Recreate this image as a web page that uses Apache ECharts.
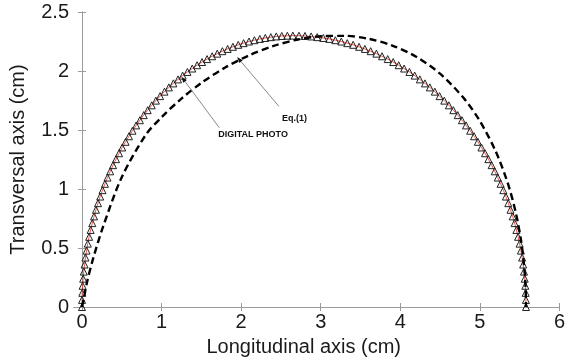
<!DOCTYPE html>
<html>
<head>
<meta charset="utf-8">
<script src="https://cdn.jsdelivr.net/npm/echarts@6/dist/echarts.min.js"></script>
<style>
  html, body { margin: 0; padding: 0; background: #fff; }
  #chart { width: 568px; height: 362px; }
</style>
</head>
<body>
<div id="chart"></div>
<script>
// Contour (cm)
const photoX = [
  0, 0.001, 0.004, 0.008, 0.015, 0.023, 0.033, 0.044, 0.058, 0.073, 0.090, 0.109, 0.130, 0.152, 0.176, 0.202,
  0.229, 0.258, 0.289, 0.321, 0.355, 0.391, 0.428, 0.466, 0.506, 0.548, 0.591, 0.635, 0.681, 0.728, 0.776,
  0.826, 0.877, 0.929, 0.982, 1.037, 1.092, 1.149, 1.207, 1.265, 1.325, 1.386, 1.447, 1.509, 1.572, 1.636,
  1.700, 1.765, 1.831, 1.897, 1.964, 2.031, 2.099, 2.167, 2.235, 2.304, 2.373, 2.442, 2.511, 2.581, 2.650,
  2.727, 2.803, 2.880, 2.956, 3.032, 3.108, 3.184, 3.259, 3.334, 3.408, 3.482, 3.555, 3.628, 3.700, 3.771,
  3.842, 3.911, 3.980, 4.048, 4.115, 4.181, 4.246, 4.310, 4.372, 4.434, 4.494, 4.553, 4.611, 4.667, 4.722,
  4.775, 4.827, 4.878, 4.927, 4.975, 5.020, 5.065, 5.107, 5.148, 5.187, 5.225, 5.261, 5.295, 5.327, 5.357,
  5.385, 5.412, 5.437, 5.459, 5.480, 5.499, 5.516, 5.531, 5.544, 5.555, 5.564, 5.571, 5.576, 5.579, 5.580
];
const photoY = [
  0, 0.060, 0.120, 0.180, 0.240, 0.300, 0.360, 0.419, 0.478, 0.537, 0.595, 0.653, 0.711, 0.768, 0.824, 0.880,
  0.936, 0.990, 1.044, 1.097, 1.150, 1.202, 1.253, 1.303, 1.352, 1.400, 1.447, 1.494, 1.539, 1.583, 1.626,
  1.668, 1.709, 1.749, 1.787, 1.825, 1.861, 1.895, 1.929, 1.961, 1.992, 2.021, 2.049, 2.076, 2.101, 2.125,
  2.147, 2.168, 2.187, 2.205, 2.222, 2.236, 2.250, 2.261, 2.272, 2.280, 2.287, 2.293, 2.297, 2.299, 2.300,
  2.299, 2.297, 2.293, 2.287, 2.280, 2.272, 2.261, 2.250, 2.236, 2.222, 2.205, 2.187, 2.168, 2.147, 2.125,
  2.101, 2.076, 2.049, 2.021, 1.992, 1.961, 1.929, 1.895, 1.861, 1.825, 1.787, 1.749, 1.709, 1.668, 1.626,
  1.583, 1.539, 1.494, 1.447, 1.400, 1.352, 1.303, 1.253, 1.202, 1.150, 1.097, 1.044, 0.990, 0.936, 0.880,
  0.824, 0.768, 0.711, 0.653, 0.595, 0.537, 0.478, 0.419, 0.360, 0.300, 0.240, 0.180, 0.120, 0.060, 0
];

// Profile given by Eq.(1) (cm)
const eqX = [0, 0.02, 0.06, 0.14, 0.27, 0.50, 0.80, 1.00, 1.25, 1.50, 1.80, 2.10, 2.40, 2.70, 3.00, 3.30, 3.60, 3.90, 4.20, 4.50, 4.80, 5.00, 5.20, 5.35, 5.45, 5.52, 5.56, 5.575, 5.58];
const eqY = [0, 0.06, 0.20, 0.41, 0.69, 1.10, 1.457, 1.608, 1.766, 1.899, 2.030, 2.133, 2.211, 2.265, 2.294, 2.298, 2.273, 2.216, 2.121, 1.977, 1.768, 1.576, 1.318, 1.051, 0.804, 0.553, 0.322, 0.163, 0];

const xTicks = [0, 1, 2, 3, 4, 5, 6];
const yTicks = [0, 0.5, 1, 1.5, 2, 2.5];

const pairs = (xs, ys) => xs.map((x, i) => [x, ys[i]]);

const axisGray = '#9a9a9a';
const fontFamily = 'Liberation Sans, Arial, sans-serif';
const labelFont = { fontFamily: fontFamily, fontSize: 20, color: '#1a1a1a' };

const chart = echarts.init(document.getElementById('chart'), null, { renderer: 'canvas' });

const tickStyle = (values) => ({
  show: true, inside: true, length: 4, lineStyle: { color: axisGray }, customValues: values
});

const boxAxis = (extra) => Object.assign({
  type: 'value',
  axisLine: { show: true, lineStyle: { color: axisGray, width: 1 } },
  axisTick: { show: true, inside: true, length: 4, lineStyle: { color: axisGray } },
  splitLine: { show: false },
  axisLabel: { show: false }
}, extra);

chart.setOption({
  animation: false,
  backgroundColor: '#fff',
  grid: { left: 74, right: 6, top: 12, bottom: 49, containLabel: false },
  xAxis: [
    boxAxis({
      position: 'bottom', min: -0.1, max: 6,
      axisTick: tickStyle(xTicks),
      axisLabel: Object.assign({ show: true, margin: 5, customValues: xTicks }, labelFont),
      name: 'Longitudinal axis (cm)', nameLocation: 'middle', nameGap: 30,
      nameTextStyle: Object.assign({}, labelFont, { padding: [0, 26, 0, 0] })
    }),
    boxAxis({ position: 'top', min: -0.1, max: 6, axisTick: tickStyle(xTicks) })
  ],
  yAxis: [
    boxAxis({
      position: 'left', min: 0, max: 2.5, interval: 0.5,
      axisTick: tickStyle(yTicks),
      axisLabel: Object.assign({ show: true, margin: 5, customValues: yTicks }, labelFont),
      name: 'Transversal axis (cm)', nameLocation: 'middle', nameGap: 46,
      nameTextStyle: labelFont
    }),
    boxAxis({ position: 'right', min: 0, max: 2.5, interval: 0.5, axisTick: tickStyle(yTicks) })
  ],
  series: [
    {
      name: 'DIGITAL PHOTO',
      type: 'line',
      data: pairs(photoX, photoY),
      symbol: 'triangle',
      symbolSize: 7,
      showSymbol: true,
      itemStyle: { color: 'rgba(255,255,255,0)', borderColor: '#222', borderWidth: 1 },
      lineStyle: { color: '#e0301e', width: 0.8 },
      z: 2
    },
    {
      name: 'Eq.(1)',
      type: 'line',
      data: pairs(eqX, eqY),
      smooth: 0.3,
      showSymbol: false,
      lineStyle: { color: '#000', width: 2.4, type: [7, 4] },
      z: 3
    }
  ]
});

// Callout labels pointing at each curve (data coordinates)
const callouts = [
  { text: 'Eq.(1)', textAt: [2.5125, 1.60], from: [2.475, 1.701], to: [1.95, 2.118] },
  { text: 'DIGITAL PHOTO', textAt: [1.7125, 1.465], from: [1.725, 1.52], to: [1.25, 1.952] }
];

const elements = [];
callouts.forEach(c => {
  const p0 = chart.convertToPixel({ gridIndex: 0 }, c.from);
  const p1 = chart.convertToPixel({ gridIndex: 0 }, c.to);
  const pt = chart.convertToPixel({ gridIndex: 0 }, c.textAt);
  const ang = Math.atan2(p1[1] - p0[1], p1[0] - p0[0]);
  const L = 6, W = 2.2;
  const bx = p1[0] - L * Math.cos(ang), by = p1[1] - L * Math.sin(ang);
  elements.push({
    type: 'line', z: 10,
    shape: { x1: p0[0], y1: p0[1], x2: bx, y2: by },
    style: { stroke: '#8a8a8a', lineWidth: 1 }
  });
  elements.push({
    type: 'polygon', z: 10,
    shape: { points: [
      [p1[0], p1[1]],
      [bx + W * Math.sin(ang), by - W * Math.cos(ang)],
      [bx - W * Math.sin(ang), by + W * Math.cos(ang)]
    ] },
    style: { fill: '#111' }
  });
  elements.push({
    type: 'text', z: 10,
    x: pt[0], y: pt[1],
    style: {
      text: c.text, fill: '#111',
      font: 'bold 9px ' + fontFamily,
      align: 'left', verticalAlign: 'middle'
    }
  });
});
chart.setOption({ graphic: elements });
</script>
</body>
</html>
